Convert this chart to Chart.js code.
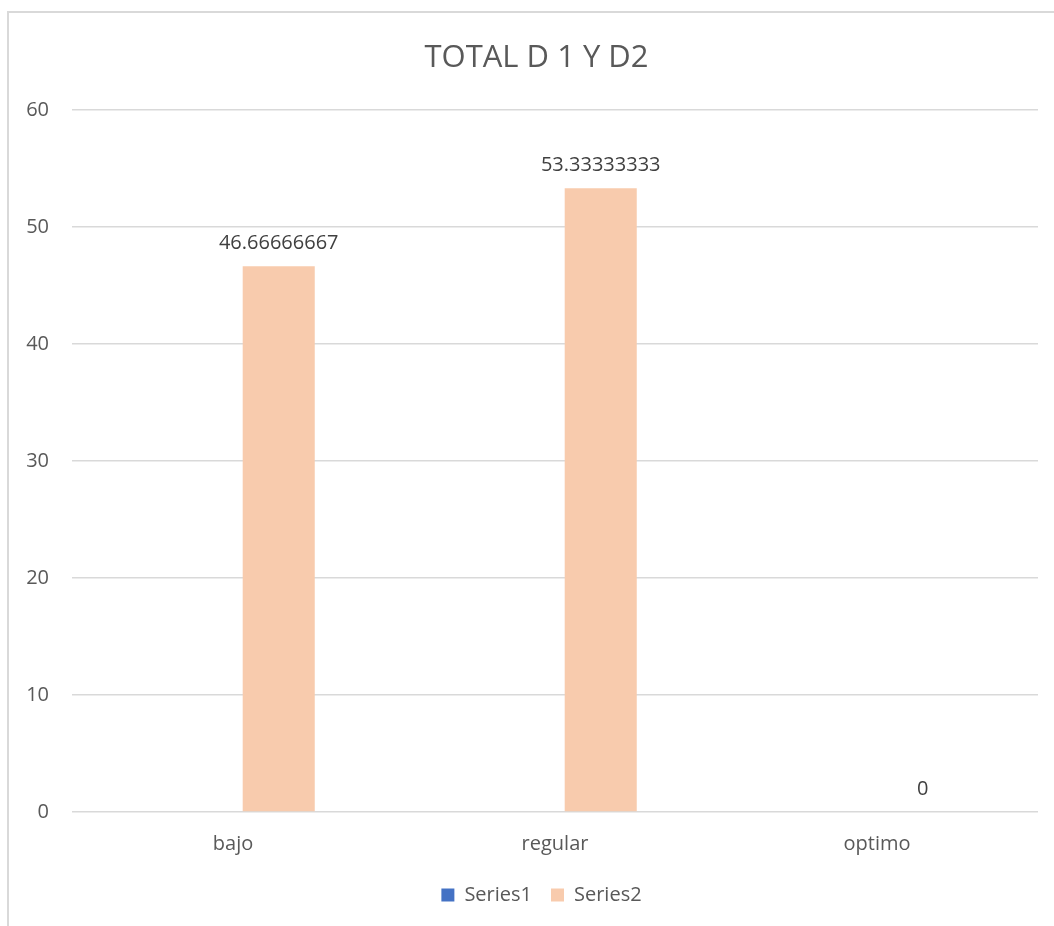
<!DOCTYPE html>
<html>
<head>
<meta charset="utf-8">
<script src="https://cdn.jsdelivr.net/npm/chart.js@4"></script>
<style>
  body { margin: 0; background: #fff; overflow: hidden; }
  #wrap { position: relative; width: 1054px; height: 926px; }
  #frame { position: absolute; left: 7px; top: 11px; width: 1100px; height: 1000px;
           border-top: 2px solid #d9d9d9; border-left: 2px solid #d9d9d9; }
  canvas { position: absolute; left: 0; top: 0; }
</style>
</head>
<body>
<div id="wrap">
  <div id="frame"></div>
  <canvas id="myChart" width="1054" height="926"></canvas>
</div>
<script>
const categories = ['bajo', 'regular', 'optimo'];
const series1 = [null, null, null];
const series2 = [46.66666667, 53.33333333, 0];
const series2Labels = ['46.66666667', '53.33333333', '0'];

const FONT = "'Open Sans', 'Noto Sans', sans-serif";
const TEXT = '#595959';

// etiquetas de datos encima de las barras
const barLabels = {
  id: 'barLabels',
  afterDatasetsDraw(chart) {
    const c = chart.ctx;
    const meta = chart.getDatasetMeta(1);
    c.save();
    c.font = '20px ' + FONT;
    c.fillStyle = '#404040';
    c.textAlign = 'center';
    c.textBaseline = 'middle';
    meta.data.forEach((bar, i) => {
      c.fillText(series2Labels[i], bar.x, bar.y - 23);
    });
    c.restore();
  }
};

// mover un poco la leyenda y el titulo hacia la derecha (como en Excel)
const nudge = {
  id: 'nudge',
  afterLayout(chart) {
    chart.legend.left += 10;
    chart.legend.right += 10;
    chart.titleBlock.left += 5;
    chart.titleBlock.right += 5;
  }
};

const ctx = document.getElementById('myChart');
new Chart(ctx, {
  type: 'bar',
  data: {
    labels: categories,
    datasets: [
      { label: 'Series1', data: series1, backgroundColor: '#4472C4' },
      { label: 'Series2', data: series2, backgroundColor: '#F8CBAD' }
    ]
  },
  options: {
    responsive: false,
    animation: false,
    categoryPercentage: 0.568,
    barPercentage: 0.788,
    layout: { padding: { left: 25, right: 16, top: 0, bottom: 11 } },
    plugins: {
      title: {
        display: true,
        text: 'TOTAL D 1 Y D2',
        color: TEXT,
        font: { family: FONT, size: 31, weight: 'normal' },
        padding: { top: 40, bottom: 33 }
      },
      legend: {
        position: 'bottom',
        labels: {
          boxWidth: 13,
          boxHeight: 13,
          padding: 19,
          color: TEXT,
          font: { family: FONT, size: 20 }
        }
      },
      tooltip: { enabled: false }
    },
    scales: {
      x: {
        grid: { display: false },
        border: { display: false },
        ticks: { color: TEXT, font: { family: FONT, size: 20 }, padding: 12 },
        afterFit: s => { s.height = 54; }
      },
      y: {
        min: 0,
        max: 60,
        grid: { color: '#d9d9d9', lineWidth: 1.5, drawTicks: false },
        border: { display: false },
        ticks: { stepSize: 10, color: TEXT, font: { family: FONT, size: 20 }, padding: 23 },
        afterFit: s => { s.width = 47; }
      }
    }
  },
  plugins: [barLabels, nudge]
});
</script>
</body>
</html>
